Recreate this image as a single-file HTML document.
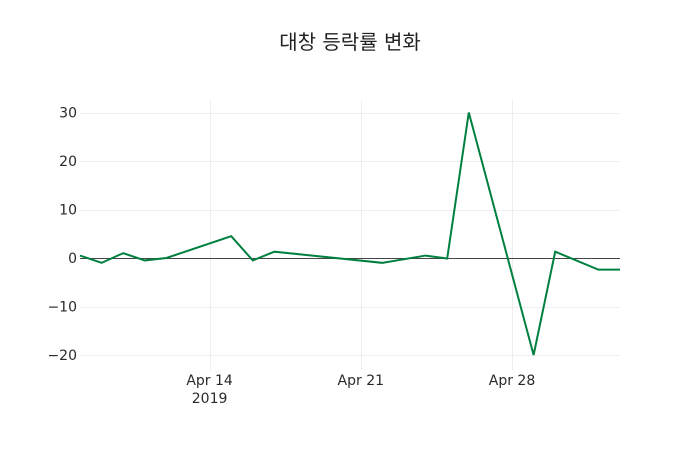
<!DOCTYPE html>
<html><head><meta charset="utf-8"><style>
body{margin:0;background:#fff;}
svg text{font-family:"DejaVu Sans","Noto Sans CJK KR",sans-serif;fill:#2a2a2a;}
</style></head><body>
<svg id="chart" width="700" height="450" xmlns="http://www.w3.org/2000/svg">
<text x="350" y="49" text-anchor="middle" font-size="20" style="fill:#222">대창 등락률 변화</text>
<g id="grid"></g><g id="axes"></g><g id="series"></g>
</svg>
<script>
const dates=["2019-04-08","2019-04-09","2019-04-10","2019-04-11","2019-04-12","2019-04-15","2019-04-16","2019-04-17","2019-04-22","2019-04-24","2019-04-25","2019-04-26","2019-04-29","2019-04-30","2019-05-02","2019-05-03"];
const values=[0.5,-1,1,-0.5,0,4.5,-0.5,1.3,-1,0.5,-0.1,30,-20,1.3,-2.4,-2.4];
const yTicks=[-20,-10,0,10,20,30];
const yTickLabels=["−20","−10","0","10","20","30"];
const xTicks=["2019-04-14","2019-04-21","2019-04-28"];
const xTickLabels=["Apr 14","Apr 21","Apr 28"];
const NS="http://www.w3.org/2000/svg";
const L=80,R=620,T=100,B=370;
const d0=Date.parse("2019-04-08"),d1=Date.parse("2019-05-03");
const x=d=>L+(Date.parse(d)-d0)/(d1-d0)*(R-L);
const y=v=>258-v*4.85;
function mk(t,a,p){const e=document.createElementNS(NS,t);for(const k in a)e.setAttribute(k,a[k]);p.appendChild(e);return e;}
const grid=document.getElementById('grid'),axes=document.getElementById('axes'),ser=document.getElementById('series');
xTicks.forEach((d,i)=>{
 const px=Math.round(x(d))+0.5;
 const g=mk('line',{x1:px,x2:px,y1:T,y2:B,stroke:'#eee','stroke-width':1},grid);
 
 
 const t=mk('text',{x:x(d),y:385,'text-anchor':'middle','font-size':14},axes);
 t.textContent=xTickLabels[i];
 
 
});
yTicks.forEach((v,i)=>{
 const py=Math.round(y(v))+0.5;
 const g=mk('line',{x1:L,x2:R,y1:py,y2:py,stroke:v===0?'#444':'#eee','stroke-width':1},grid);
 
 
 const t=mk('text',{x:L-3,y:y(v)+5,'text-anchor':'end','font-size':14},axes);
 t.textContent=yTickLabels[i];
 
 
});
const yr=mk('text',{x:x(xTicks[0]),y:403,'text-anchor':'middle','font-size':14},axes);
yr.textContent="2019";


const pl=mk('polyline',{points:dates.map((d,i)=>x(d)+','+y(values[i])).join(' '),fill:'none',stroke:'#008040','stroke-width':2},ser);


</script>
</body></html>
